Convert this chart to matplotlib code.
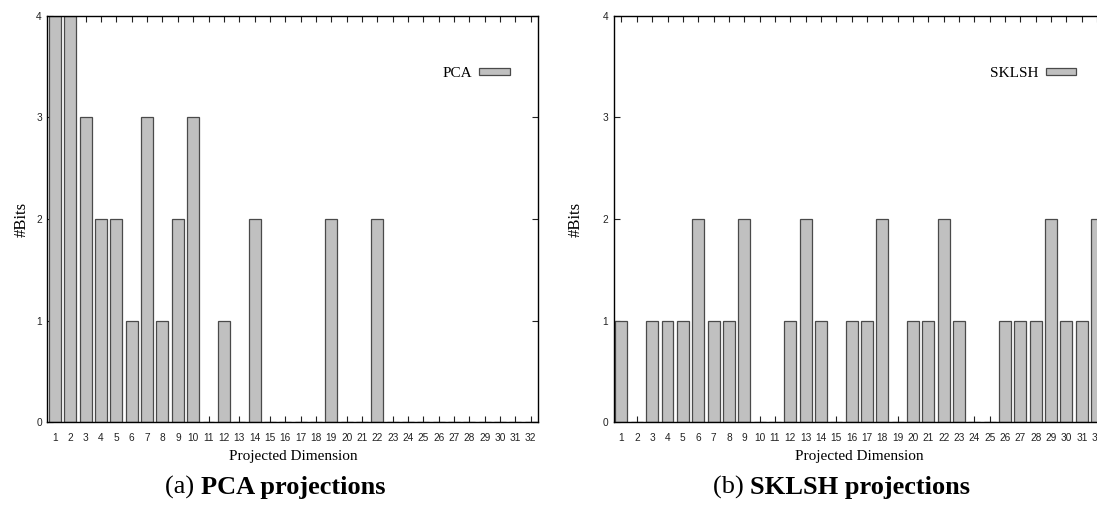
import matplotlib
matplotlib.use('Agg')
import matplotlib.pyplot as plt
import numpy as np

# bits allotted to each projected dimension
dims = np.arange(1, 33)
pca_bits = [4, 4, 3, 2, 2, 1, 3, 1, 2, 3, 0, 1, 0, 2, 0, 0,
            0, 0, 2, 0, 0, 2, 0, 0, 0, 0, 0, 0, 0, 0, 0, 0]
sklsh_bits = [1, 0, 1, 1, 1, 2, 1, 1, 2, 0, 0, 1, 2, 1, 0, 1,
              1, 2, 0, 1, 1, 2, 1, 0, 0, 1, 1, 1, 2, 1, 1, 2]
y_ticks = [0, 1, 2, 3, 4]

serif = 'Liberation Serif'
sans = 'Liberation Sans'
bar_color = '#c0c0c0'
edge_color = '#4a4a4a'

fig = plt.figure(figsize=(10.97, 5.08), dpi=100)
W, H = 1097, 508


def px_axes(left, top, width, height):
    return fig.add_axes([left / W, 1 - (top + height) / H, width / W, height / H])


def draw_panel(ax, values, name, ylabel_x):
    ax.bar(dims, values, width=0.78, color=bar_color, edgecolor=edge_color,
           linewidth=0.9, label=name, zorder=2)
    ax.set_xlim(0.5, 32.5)
    ax.set_ylim(0, 4)
    ax.set_axisbelow(True)
    ax.set_xticks(dims)
    ax.set_xticklabels([str(d) for d in dims], fontfamily=sans, fontsize=7.3)
    ax.set_yticks(y_ticks)
    ax.set_yticklabels([str(v) for v in y_ticks], fontfamily=sans, fontsize=7.3)
    ax.tick_params(axis='x', direction='in', length=4.3, width=0.8,
                   top=True, pad=8, colors='#222222')
    ax.tick_params(axis='y', direction='in', length=4.3, width=0.8,
                   right=True, pad=4, colors='#222222')
    for sp in ax.spines.values():
        sp.set_linewidth(1.0)
        sp.set_zorder(3)
    ax.set_xlabel('Projected Dimension', fontfamily=serif, fontsize=11, labelpad=4.5)
    ax.set_ylabel('#Bits', fontfamily=serif, fontsize=12)
    ax.yaxis.set_label_coords(ylabel_x, 0.5)
    ax.legend(loc='center right', bbox_to_anchor=(0.942, 0.859), frameon=False,
              markerfirst=False, borderpad=0, borderaxespad=0,
              handlelength=2.0, handleheight=0.33, handletextpad=0.45,
              prop={'family': serif, 'size': 11})


ax1 = px_axes(47.4, 15.7, 491, 406.6)
ax2 = px_axes(613.8, 15.7, 491, 406.6)
draw_panel(ax1, pca_bits, 'PCA', -0.036)
draw_panel(ax2, sklsh_bits, 'SKLSH', -0.061)

# captions under each panel: plain tag followed by a bold title
for x0, tag, title in [(165, '(a) ', 'PCA projections'), (713, '(b) ', 'SKLSH projections')]:
    t = fig.text(x0 / W, 1 - 494 / H, tag, fontfamily=serif, fontsize=19,
                 ha='left', va='baseline')
    fig.add_artist(plt.Annotation(title, xy=(1, 0), xycoords=t, ha='left',
                                  va='bottom', fontfamily=serif, fontsize=19,
                                  fontweight='bold', annotation_clip=False))

fig.savefig('out.png', dpi=100)
